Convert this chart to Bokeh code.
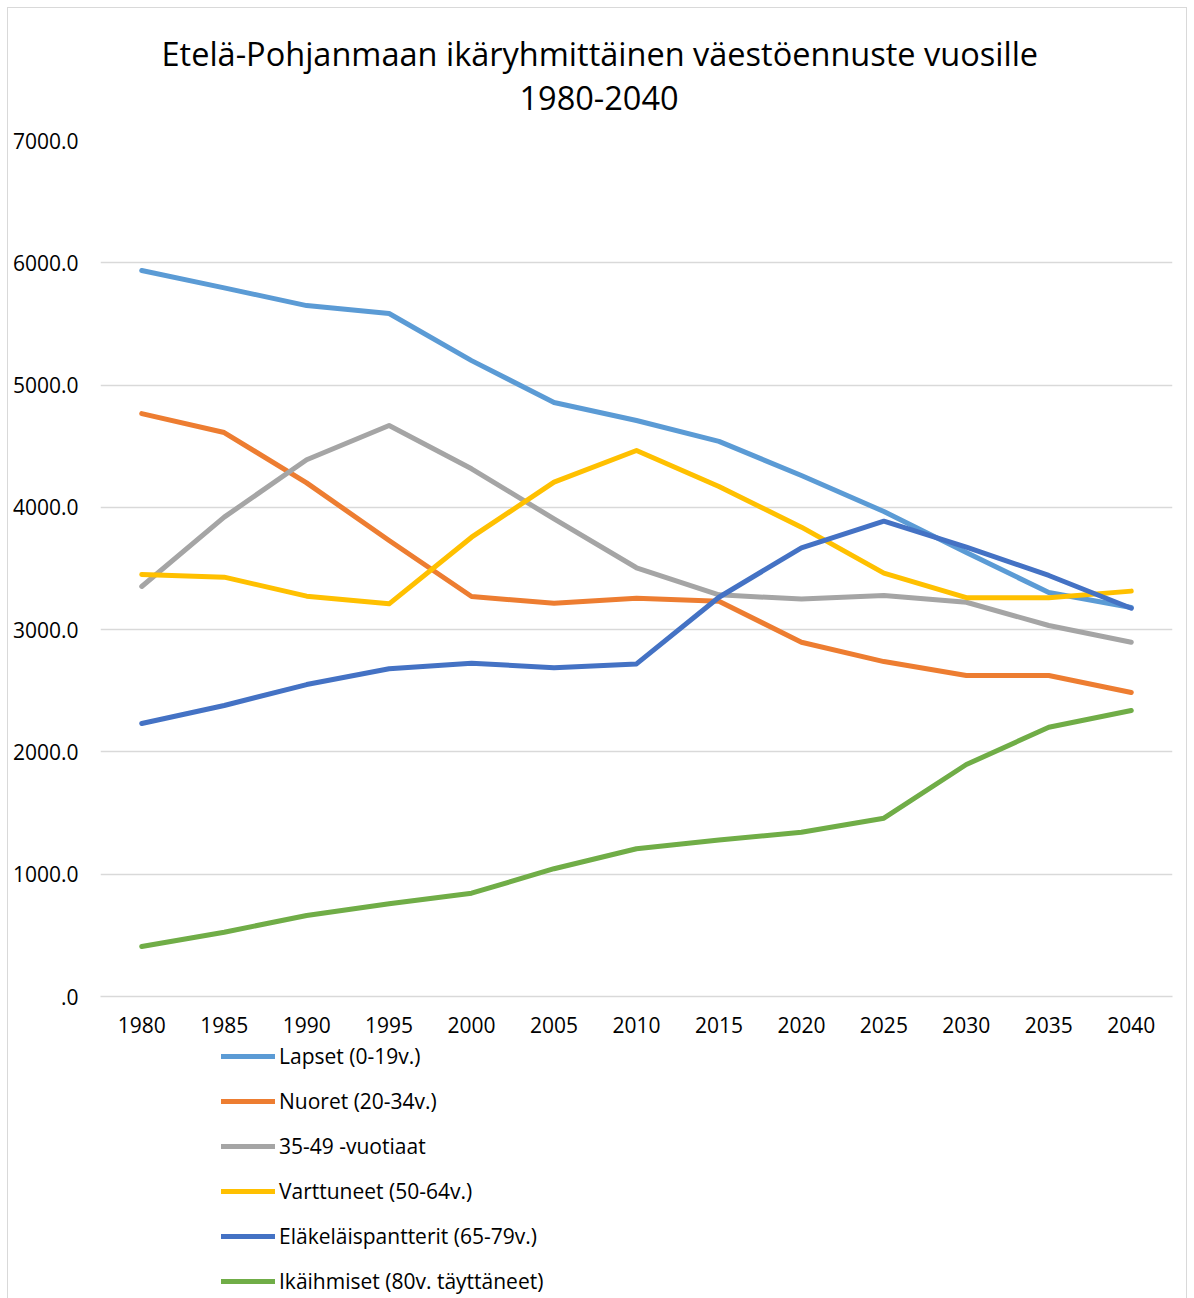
from bokeh.plotting import figure
from bokeh.layouts import column
from bokeh.models import Legend, LegendItem, CustomJSTickFormatter, FixedTicker, Range1d, Title
from bokeh.embed import file_html
from bokeh.resources import INLINE

years = [1980, 1985, 1990, 1995, 2000, 2005, 2010, 2015, 2020, 2025, 2030, 2035, 2040]
lapset = [5937, 5795, 5650, 5585, 5200, 4857, 4710, 4540, 4260, 3966, 3630, 3304, 3181]
nuoret = [4767, 4612, 4200, 3729, 3271, 3216, 3257, 3232, 2897, 2739, 2625, 2625, 2486]
keski = [3353, 3920, 4389, 4669, 4315, 3906, 3506, 3285, 3250, 3279, 3224, 3034, 2897]
varttuneet = [3451, 3429, 3274, 3211, 3756, 4206, 4465, 4170, 3838, 3462, 3261, 3261, 3315]
elakelaiset = [2232, 2380, 2551, 2680, 2726, 2688, 2720, 3265, 3669, 3887, 3674, 3443, 3175]
ikaihmiset = [409, 526, 662, 758, 845, 1045, 1208, 1280, 1343, 1458, 1897, 2202, 2339]

series_names = ["Lapset (0-19v.)", "Nuoret (20-34v.)", "35-49 -vuotiaat",
                "Varttuneet (50-64v.)", "Eläkeläispantterit (65-79v.)",
                "Ikäihmiset (80v. täyttäneet)"]
series_values = [lapset, nuoret, keski, varttuneet, elakelaiset, ikaihmiset]
colors = ["#5B9BD5", "#ED7D31", "#A5A5A5", "#FFC000", "#4472C4", "#70AD47"]
y_ticks = [0, 1000, 2000, 3000, 4000, 5000, 6000, 7000]
title_lines = ["Etelä-Pohjanmaan ikäryhmittäinen väestöennuste vuosille", "1980-2040"]

FONT = "Open Sans"

# ---- main chart ----
p = figure(width=1178, height=1032, output_backend="svg", toolbar_location=None,
           x_range=Range1d(1977.5, 2042.5), y_range=Range1d(0, 7000),
           min_border_left=92, min_border_right=14, min_border_top=132, min_border_bottom=44)

p.title = None
p.add_layout(Title(text=title_lines[1], align="left", offset=419, text_font=FONT,
                   text_font_size="32.5px", text_font_style="normal", text_color="#000000",
                   standoff=62), "above")
p.add_layout(Title(text=title_lines[0], align="left", offset=61,
                   text_font=FONT, text_font_size="32.5px", text_font_style="normal",
                   text_color="#000000", standoff=-46), "above")

p.outline_line_color = None
p.background_fill_color = "white"
p.border_fill_color = "white"

p.xgrid.grid_line_color = None
p.ygrid.grid_line_color = "#D9D9D9"
p.ygrid.grid_line_width = 1.5

p.yaxis.ticker = FixedTicker(ticks=y_ticks)
p.yaxis.formatter = CustomJSTickFormatter(code="return tick === 0 ? '.0' : tick.toFixed(1);")
p.yaxis.axis_line_color = None
p.yaxis.major_tick_line_color = None
p.yaxis.minor_tick_line_color = None
p.yaxis.major_tick_out = 0
p.yaxis.major_tick_in = 0
p.yaxis.minor_tick_out = 0
p.yaxis.major_label_text_font = FONT
p.yaxis.major_label_text_font_size = "21px"
p.yaxis.major_label_text_color = "#000000"
p.yaxis.major_label_standoff = 22

p.xaxis.ticker = FixedTicker(ticks=years)
p.xaxis.axis_line_color = "#D9D9D9"
p.xaxis.axis_line_width = 1.5
p.xaxis.major_tick_line_color = None
p.xaxis.minor_tick_line_color = None
p.xaxis.major_label_text_font = FONT
p.xaxis.major_label_text_font_size = "21px"
p.xaxis.major_label_text_color = "#000000"
p.xaxis.major_label_standoff = 14

for vals, col in zip(series_values, colors):
    p.line(years, vals, line_color=col, line_width=5, line_cap="round", line_join="round")

# ---- legend panel (series drawn out of view, only their legend samples show) ----
q = figure(width=1178, height=258, output_backend="svg", toolbar_location=None,
           x_range=Range1d(0, 1), y_range=Range1d(0, 1),
           x_axis_location=None, y_axis_location=None,
           min_border_left=0, min_border_right=0, min_border_top=0, min_border_bottom=0)
q.grid.grid_line_color = None
q.outline_line_color = None
q.border_fill_color = "white"
q.background_fill_color = "white"

items = []
for name, vals, col in zip(series_names, series_values, colors):
    r = q.line(years, vals, line_color=col, line_width=5, line_cap="round")
    items.append(LegendItem(label=name, renderers=[r]))

legend = Legend(items=items, location=(121, 3), orientation="vertical",
                label_text_font=FONT, label_text_font_size="21px", label_text_color="#000000",
                glyph_width=54, glyph_height=20, label_height=20, label_standoff=4,
                spacing=17, padding=0, margin=0, border_line_color=None,
                background_fill_alpha=0)
q.add_layout(legend, "center")

layout = column(p, q, spacing=0)
layout.styles = {"margin-left": "7px", "margin-top": "7px",
                 "border": "1px solid #D9D9D9", "border-bottom": "none"}

open("out.html", "w").write(file_html(layout, INLINE))
